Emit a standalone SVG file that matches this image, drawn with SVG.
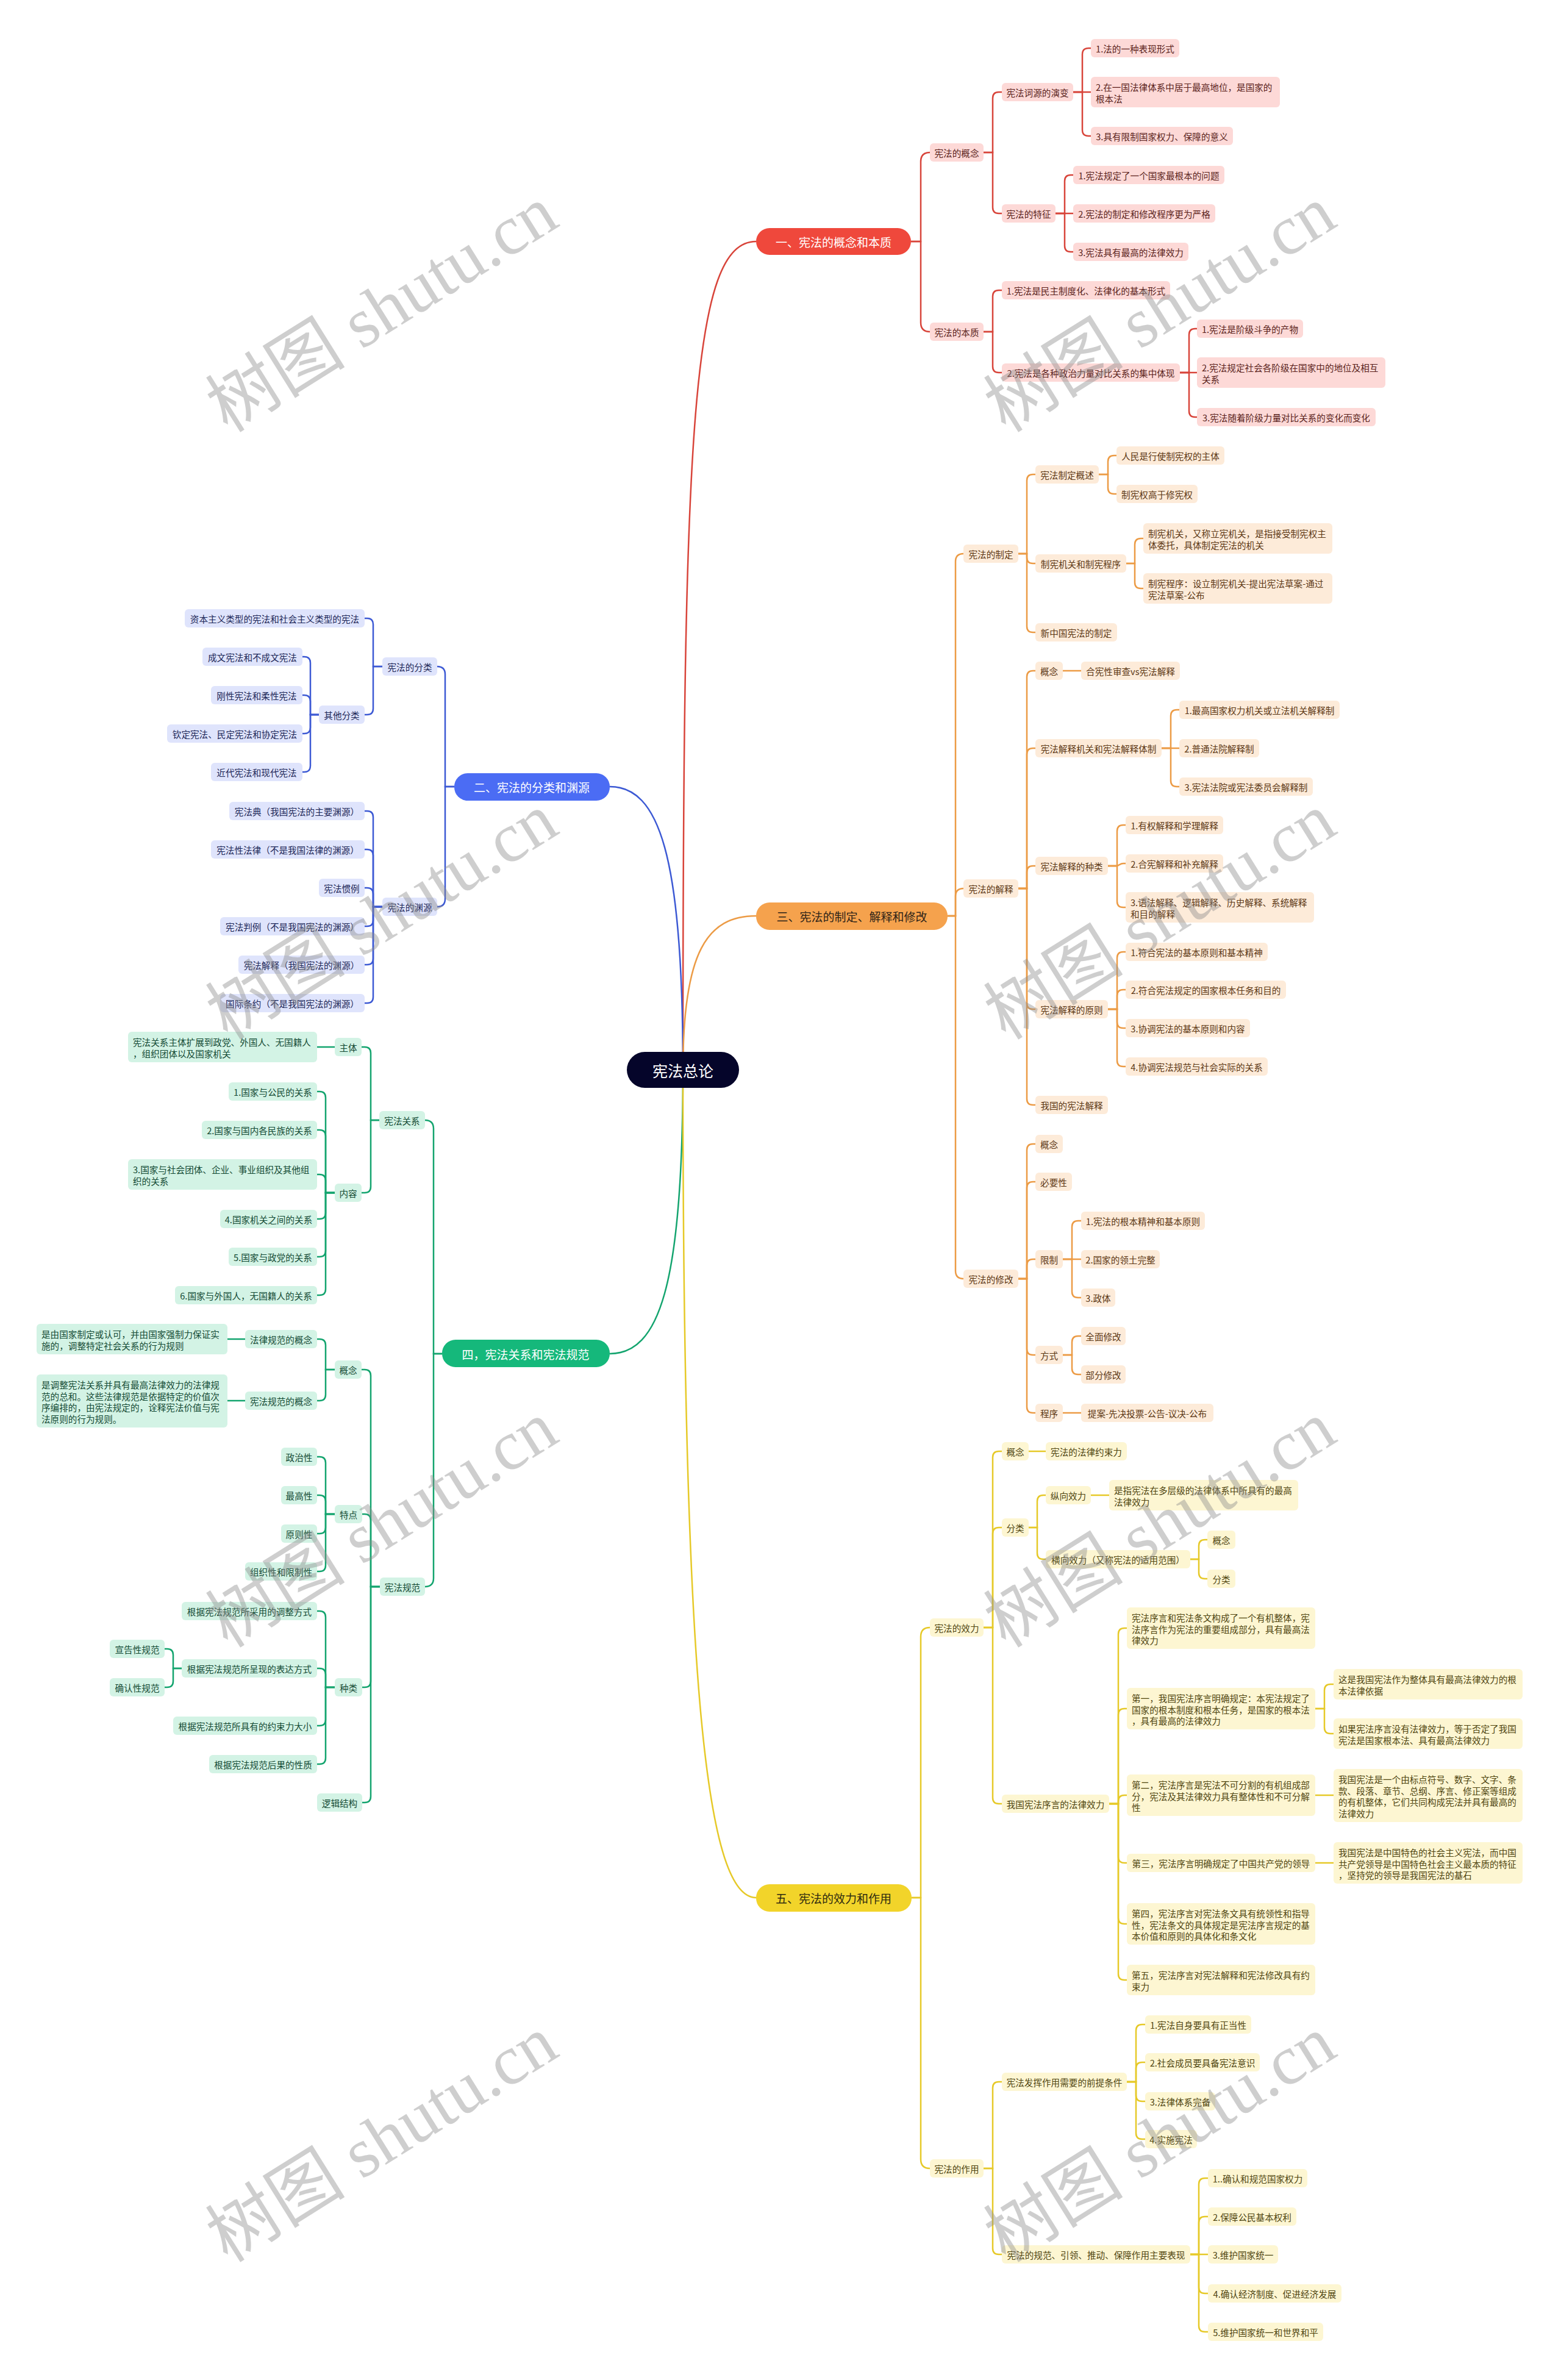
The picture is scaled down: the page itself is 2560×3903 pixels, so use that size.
<svg xmlns="http://www.w3.org/2000/svg" width="2560" height="3903" viewBox="0 0 2560 3903">
<style>
.t{font-family:"Noto Sans CJK SC","Noto Sans",sans-serif;font-size:14.6px;dominant-baseline:central}
.c{text-anchor:middle}
.m{font-family:"Noto Sans CJK SC","Noto Sans",sans-serif;font-size:19px;dominant-baseline:central;text-anchor:middle}
.nr{fill:#fdd9d7}.tr{fill:#5a1f1b}
.no{fill:#fdebd9}.to{fill:#5c3714}
.ny{fill:#fdf6d2}.ty{fill:#4f4510}
.nb{fill:#dfe4fc}.tb{fill:#1c2657}
.ng{fill:#d3f3e5}.tg{fill:#134a34}
.lr{stroke:#d8443a}.lo{stroke:#ec9b45}.ly{stroke:#e6c928}.lb{stroke:#3c59d4}.lg{stroke:#13a46e}
#conn path{fill:none;stroke-width:2.5}
.wm{font-family:"Liberation Serif","Noto Sans CJK SC",serif;font-size:115px;fill:#8c8c8c;opacity:0.42;text-anchor:middle}
</style>
<rect width="2560" height="3903" fill="#ffffff"/>
<g id="conn">
<path class="lr" d="M1120,1755 C1120,700 1135,396 1240,396"/>
<path class="lb" d="M1120,1755 C1120,1400 1080,1290 1000,1290"/>
<path class="lo" d="M1120,1755 C1120,1560 1160,1502 1240,1502"/>
<path class="lg" d="M1120,1755 C1120,2111 1080,2220 1000,2220"/>
<path class="ly" d="M1120,1755 C1120,2780 1160,3112 1240,3112"/>
<path class="lr" d="M1494,396H1510V265Q1510,250 1525,250"/>
<path class="lr" d="M1494,396H1510V529Q1510,544 1525,544"/>
<path class="lr" d="M1613,250H1628V161Q1628,151 1638,151H1643"/>
<path class="lr" d="M1613,250H1628V340Q1628,350 1638,350H1643"/>
<path class="lr" d="M1760,151H1775V89Q1775,79 1785,79H1789"/>
<path class="lr" d="M1760,151H1789"/>
<path class="lr" d="M1760,151H1775V213Q1775,223 1785,223H1789"/>
<path class="lr" d="M1731,350H1746V297Q1746,287 1756,287H1760"/>
<path class="lr" d="M1731,350H1760"/>
<path class="lr" d="M1731,350H1746V403Q1746,413 1756,413H1760"/>
<path class="lr" d="M1613,544H1628V486Q1628,476 1638,476H1643"/>
<path class="lr" d="M1613,544H1628V601Q1628,611 1638,611H1643"/>
<path class="lr" d="M1935,611H1950V549Q1950,539 1960,539H1963"/>
<path class="lr" d="M1935,611H1963"/>
<path class="lr" d="M1935,611H1950V674Q1950,684 1960,684H1963"/>
<path class="lo" d="M1554,1502H1567V921Q1567,908 1580,908"/>
<path class="lo" d="M1554,1502H1567V1470Q1567,1457 1580,1457"/>
<path class="lo" d="M1554,1502H1567V2084Q1567,2097 1580,2097"/>
<path class="lo" d="M1670,908H1684V788Q1684,778 1694,778H1698"/>
<path class="lo" d="M1670,908H1684V914Q1684,924 1694,924H1698"/>
<path class="lo" d="M1670,908H1684V1027Q1684,1037 1694,1037H1698"/>
<path class="lo" d="M1802,778H1817V757Q1817,747 1827,747H1831"/>
<path class="lo" d="M1802,778H1817V800Q1817,810 1827,810H1831"/>
<path class="lo" d="M1847,924H1861V893Q1861,883 1871,883H1875"/>
<path class="lo" d="M1847,924H1861V955Q1861,965 1871,965H1875"/>
<path class="lo" d="M1670,1457H1684V1110Q1684,1100 1694,1100H1698"/>
<path class="lo" d="M1670,1457H1684V1237Q1684,1227 1694,1227H1698"/>
<path class="lo" d="M1670,1457H1684V1430Q1684,1420 1694,1420H1698"/>
<path class="lo" d="M1670,1457H1684V1645Q1684,1655 1694,1655H1698"/>
<path class="lo" d="M1670,1457H1684V1802Q1684,1812 1694,1812H1698"/>
<path class="lo" d="M1743,1100H1773"/>
<path class="lo" d="M1905,1227H1920V1174Q1920,1164 1930,1164H1934"/>
<path class="lo" d="M1905,1227H1934"/>
<path class="lo" d="M1905,1227H1920V1280Q1920,1290 1930,1290H1934"/>
<path class="lo" d="M1817,1420H1832V1363Q1832,1353 1842,1353H1846"/>
<path class="lo" d="M1817,1420H1830C1836,1420 1836,1416 1842,1416H1846"/>
<path class="lo" d="M1817,1420H1832V1478Q1832,1488 1842,1488H1846"/>
<path class="lo" d="M1817,1655H1832V1571Q1832,1561 1842,1561H1846"/>
<path class="lo" d="M1817,1655H1832V1633Q1832,1623 1842,1623H1846"/>
<path class="lo" d="M1817,1655H1832V1676Q1832,1686 1842,1686H1846"/>
<path class="lo" d="M1817,1655H1832V1739Q1832,1749 1842,1749H1846"/>
<path class="lo" d="M1670,2097H1684V1886Q1684,1876 1694,1876H1698"/>
<path class="lo" d="M1670,2097H1684V1948Q1684,1938 1694,1938H1698"/>
<path class="lo" d="M1670,2097H1684V2075Q1684,2065 1694,2065H1698"/>
<path class="lo" d="M1670,2097H1684V2212Q1684,2222 1694,2222H1698"/>
<path class="lo" d="M1670,2097H1684V2307Q1684,2317 1694,2317H1698"/>
<path class="lo" d="M1743,2065H1758V2012Q1758,2002 1768,2002H1773"/>
<path class="lo" d="M1743,2065H1773"/>
<path class="lo" d="M1743,2065H1758V2118Q1758,2128 1768,2128H1773"/>
<path class="lo" d="M1743,2222H1758V2201Q1758,2191 1768,2191H1773"/>
<path class="lo" d="M1743,2222H1758V2244Q1758,2254 1768,2254H1773"/>
<path class="lo" d="M1743,2317H1773"/>
<path class="ly" d="M1495,3112H1510V2684Q1510,2669 1525,2669"/>
<path class="ly" d="M1495,3112H1510V3541Q1510,3556 1525,3556"/>
<path class="ly" d="M1613,2669H1628V2390Q1628,2380 1638,2380H1643"/>
<path class="ly" d="M1613,2669H1628V2515Q1628,2505 1638,2505H1643"/>
<path class="ly" d="M1613,2669H1628V2948Q1628,2958 1638,2958H1643"/>
<path class="ly" d="M1687,2380H1715"/>
<path class="ly" d="M1687,2505H1701V2462Q1701,2452 1711,2452H1715"/>
<path class="ly" d="M1687,2505H1701V2547Q1701,2557 1711,2557H1715"/>
<path class="ly" d="M1789,2452H1819"/>
<path class="ly" d="M1952,2557H1966V2535Q1966,2525 1976,2525H1980"/>
<path class="ly" d="M1952,2557H1966V2579Q1966,2589 1976,2589H1980"/>
<path class="ly" d="M1819,2958H1834V2680Q1834,2670 1844,2670H1848"/>
<path class="ly" d="M1819,2958H1834V2812Q1834,2802 1844,2802H1848"/>
<path class="ly" d="M1819,2958H1834V2954Q1834,2944 1844,2944H1848"/>
<path class="ly" d="M1819,2958H1834V3045Q1834,3055 1844,3055H1848"/>
<path class="ly" d="M1819,2958H1834V3145Q1834,3155 1844,3155H1848"/>
<path class="ly" d="M1819,2958H1834V3237Q1834,3247 1844,3247H1848"/>
<path class="ly" d="M2157,2802H2172V2772Q2172,2762 2182,2762H2187"/>
<path class="ly" d="M2157,2802H2172V2833Q2172,2843 2182,2843H2187"/>
<path class="ly" d="M2157,2944H2187"/>
<path class="ly" d="M2157,3055H2187"/>
<path class="ly" d="M1613,3556H1628V3424Q1628,3414 1638,3414H1643"/>
<path class="ly" d="M1613,3556H1628V3687Q1628,3697 1638,3697H1643"/>
<path class="ly" d="M1848,3414H1863V3330Q1863,3320 1873,3320H1878"/>
<path class="ly" d="M1848,3414H1863V3392Q1863,3382 1873,3382H1878"/>
<path class="ly" d="M1848,3414H1863V3436Q1863,3446 1873,3446H1878"/>
<path class="ly" d="M1848,3414H1863V3498Q1863,3508 1873,3508H1878"/>
<path class="ly" d="M1952,3697H1966V3582Q1966,3572 1976,3572H1981"/>
<path class="ly" d="M1952,3697H1966V3645Q1966,3635 1976,3635H1981"/>
<path class="ly" d="M1952,3697H1981"/>
<path class="ly" d="M1952,3697H1966V3751Q1966,3761 1976,3761H1981"/>
<path class="ly" d="M1952,3697H1966V3814Q1966,3824 1976,3824H1981"/>
<path class="lb" d="M745,1290H730V1106Q730,1093 717,1093"/>
<path class="lb" d="M745,1290H730V1474Q730,1487 717,1487"/>
<path class="lb" d="M627,1093H612V1024Q612,1014 602,1014H598"/>
<path class="lb" d="M627,1093H612V1162Q612,1172 602,1172H598"/>
<path class="lb" d="M523,1172H509V1087Q509,1077 499,1077H496"/>
<path class="lb" d="M523,1172H509V1150Q509,1140 499,1140H496"/>
<path class="lb" d="M523,1172H509V1193Q509,1203 499,1203H496"/>
<path class="lb" d="M523,1172H509V1256Q509,1266 499,1266H496"/>
<path class="lb" d="M627,1487H612V1340Q612,1330 602,1330H598"/>
<path class="lb" d="M627,1487H612V1403Q612,1393 602,1393H598"/>
<path class="lb" d="M627,1487H612V1466Q612,1456 602,1456H598"/>
<path class="lb" d="M627,1487H612V1509Q612,1519 602,1519H598"/>
<path class="lb" d="M627,1487H612V1572Q612,1582 602,1582H598"/>
<path class="lb" d="M627,1487H612V1635Q612,1645 602,1645H598"/>
<path class="lg" d="M725,2220H711V1851Q711,1837 697,1837"/>
<path class="lg" d="M725,2220H711V2588Q711,2602 697,2602"/>
<path class="lg" d="M622,1837H608V1727Q608,1717 598,1717H593"/>
<path class="lg" d="M622,1837H608V1946Q608,1956 598,1956H593"/>
<path class="lg" d="M549,1717H520"/>
<path class="lg" d="M549,1956H534V1800Q534,1790 524,1790H520"/>
<path class="lg" d="M549,1956H534V1863Q534,1853 524,1853H520"/>
<path class="lg" d="M549,1956H534V1936Q534,1926 524,1926H520"/>
<path class="lg" d="M549,1956H534V1989Q534,1999 524,1999H520"/>
<path class="lg" d="M549,1956H534V2051Q534,2061 524,2061H520"/>
<path class="lg" d="M549,1956H534V2114Q534,2124 524,2124H520"/>
<path class="lg" d="M623,2602H608V2256Q608,2246 598,2246H593"/>
<path class="lg" d="M623,2602H608V2493Q608,2483 598,2483H594"/>
<path class="lg" d="M623,2602H608V2757Q608,2767 598,2767H594"/>
<path class="lg" d="M623,2602H608V2946Q608,2956 598,2956H594"/>
<path class="lg" d="M549,2246H534V2206Q534,2196 524,2196H520"/>
<path class="lg" d="M549,2246H534V2287Q534,2297 524,2297H520"/>
<path class="lg" d="M402,2196H373"/>
<path class="lg" d="M402,2297H373"/>
<path class="lg" d="M549,2483H534V2399Q534,2389 524,2389H520"/>
<path class="lg" d="M549,2483H534V2462Q534,2452 524,2452H520"/>
<path class="lg" d="M549,2483H534V2505Q534,2515 524,2515H520"/>
<path class="lg" d="M549,2483H534V2567Q534,2577 524,2577H520"/>
<path class="lg" d="M549,2767H534V2652Q534,2642 524,2642H520"/>
<path class="lg" d="M549,2767H534V2746Q534,2736 524,2736H520"/>
<path class="lg" d="M549,2767H534V2820Q534,2830 524,2830H520"/>
<path class="lg" d="M549,2767H534V2883Q534,2893 524,2893H520"/>
<path class="lg" d="M298,2736H284V2714Q284,2704 274,2704H270"/>
<path class="lg" d="M298,2736H284V2757Q284,2767 274,2767H270"/>
</g>
<g id="root"><rect x="1028" y="1725" width="184" height="59" rx="29.5" fill="#05052a"/><text class="m" x="1120" y="1755" style="font-size:25px" fill="#ffffff">宪法总论</text></g>
<g id="m1"><rect x="1240" y="374" width="254" height="44" rx="22" fill="#ef483c"/><text class="m" x="1367" y="396" fill="#ffffff">一、宪法的概念和本质</text></g>
<g id="m2"><rect x="745" y="1268" width="255" height="45" rx="22" fill="#4b6cf4"/><text class="m" x="872" y="1290" fill="#ffffff">二、宪法的分类和渊源</text></g>
<g id="m3"><rect x="1240" y="1480" width="314" height="45" rx="22" fill="#f5a24d"/><text class="m" x="1397" y="1502" fill="#2e2418">三、宪法的制定、解释和修改</text></g>
<g id="m4"><rect x="725" y="2197" width="275" height="45" rx="22" fill="#15b87b"/><text class="m" x="862" y="2220" fill="#ffffff">四，宪法关系和宪法规范</text></g>
<g id="m5"><rect x="1240" y="3090" width="255" height="45" rx="22" fill="#f2d42a"/><text class="m" x="1367" y="3112" fill="#2e2a10">五、宪法的效力和作用</text></g>
<g id="r1"><rect class="nr" x="1525" y="235" width="88" height="30" rx="6"/><text class="t c tr" x="1569" y="250">宪法的概念</text></g>
<g id="r2"><rect class="nr" x="1643" y="136" width="117" height="30" rx="6"/><text class="t c tr" x="1701.5" y="151">宪法词源的演变</text></g>
<g id="r3"><rect class="nr" x="1789" y="64" width="145" height="30" rx="6"/><text class="t c tr" x="1861.5" y="79">1.法的一种表现形式</text></g>
<g id="r4"><rect class="nr" x="1789" y="126" width="310" height="50" rx="6"/><text class="t tr" x="1797" y="142"><tspan x="1797">2.在一国法律体系中居于最高地位，是国家的</tspan><tspan x="1797" dy="18.5">根本法</tspan></text></g>
<g id="r5"><rect class="nr" x="1789" y="208" width="233" height="30" rx="6"/><text class="t c tr" x="1905.5" y="223">3.具有限制国家权力、保障的意义</text></g>
<g id="r6"><rect class="nr" x="1643" y="335" width="88" height="30" rx="6"/><text class="t c tr" x="1687" y="350">宪法的特征</text></g>
<g id="r7"><rect class="nr" x="1760" y="272" width="248" height="30" rx="6"/><text class="t c tr" x="1884" y="287">1.宪法规定了一个国家最根本的问题</text></g>
<g id="r8"><rect class="nr" x="1760" y="335" width="233" height="30" rx="6"/><text class="t c tr" x="1876.5" y="350">2.宪法的制定和修改程序更为严格</text></g>
<g id="r9"><rect class="nr" x="1760" y="398" width="189" height="30" rx="6"/><text class="t c tr" x="1854.5" y="413">3.宪法具有最高的法律效力</text></g>
<g id="r10"><rect class="nr" x="1525" y="529" width="88" height="30" rx="6"/><text class="t c tr" x="1569" y="544">宪法的本质</text></g>
<g id="r11"><rect class="nr" x="1643" y="461" width="276" height="30" rx="6"/><text class="t c tr" x="1781" y="476">1.宪法是民主制度化、法律化的基本形式</text></g>
<g id="r12"><rect class="nr" x="1643" y="596" width="292" height="30" rx="6"/><text class="t c tr" x="1789" y="611">2.宪法是各种政治力量对比关系的集中体现</text></g>
<g id="r13"><rect class="nr" x="1963" y="524" width="174" height="30" rx="6"/><text class="t c tr" x="2050" y="539">1.宪法是阶级斗争的产物</text></g>
<g id="r14"><rect class="nr" x="1963" y="586" width="309" height="50" rx="6"/><text class="t tr" x="1971" y="602"><tspan x="1971">2.宪法规定社会各阶级在国家中的地位及相互</tspan><tspan x="1971" dy="18.5">关系</tspan></text></g>
<g id="r15"><rect class="nr" x="1963" y="669" width="293" height="30" rx="6"/><text class="t c tr" x="2109.5" y="684">3.宪法随着阶级力量对比关系的变化而变化</text></g>
<g id="o1"><rect class="no" x="1580" y="893" width="90" height="30" rx="6"/><text class="t c to" x="1625" y="908">宪法的制定</text></g>
<g id="o2"><rect class="no" x="1698" y="763" width="104" height="30" rx="6"/><text class="t c to" x="1750" y="778">宪法制定概述</text></g>
<g id="o3"><rect class="no" x="1831" y="732" width="177" height="30" rx="6"/><text class="t c to" x="1919.5" y="747">人民是行使制宪权的主体</text></g>
<g id="o4"><rect class="no" x="1831" y="795" width="133" height="30" rx="6"/><text class="t c to" x="1897.5" y="810">制宪权高于修宪权</text></g>
<g id="o5"><rect class="no" x="1698" y="909" width="149" height="30" rx="6"/><text class="t c to" x="1772.5" y="924">制宪机关和制宪程序</text></g>
<g id="o6"><rect class="no" x="1875" y="858" width="310" height="50" rx="6"/><text class="t to" x="1883" y="874"><tspan x="1883">制宪机关，又称立宪机关，是指接受制宪权主</tspan><tspan x="1883" dy="18.5">体委托，具体制定宪法的机关</tspan></text></g>
<g id="o7"><rect class="no" x="1875" y="940" width="310" height="50" rx="6"/><text class="t to" x="1883" y="956"><tspan x="1883">制宪程序：设立制宪机关-提出宪法草案-通过</tspan><tspan x="1883" dy="18.5">宪法草案-公布</tspan></text></g>
<g id="o8"><rect class="no" x="1698" y="1022" width="134" height="30" rx="6"/><text class="t c to" x="1765" y="1037">新中国宪法的制定</text></g>
<g id="o9"><rect class="no" x="1580" y="1442" width="90" height="30" rx="6"/><text class="t c to" x="1625" y="1457">宪法的解释</text></g>
<g id="o10"><rect class="no" x="1698" y="1085" width="45" height="30" rx="6"/><text class="t c to" x="1720.5" y="1100">概念</text></g>
<g id="o11"><rect class="no" x="1773" y="1085" width="162" height="30" rx="6"/><text class="t c to" x="1854" y="1100">合宪性审查vs宪法解释</text></g>
<g id="o12"><rect class="no" x="1698" y="1212" width="207" height="30" rx="6"/><text class="t c to" x="1801.5" y="1227">宪法解释机关和宪法解释体制</text></g>
<g id="o13"><rect class="no" x="1934" y="1149" width="263" height="30" rx="6"/><text class="t c to" x="2065.5" y="1164">1.最高国家权力机关或立法机关解释制</text></g>
<g id="o14"><rect class="no" x="1934" y="1212" width="131" height="30" rx="6"/><text class="t c to" x="1999.5" y="1227">2.普通法院解释制</text></g>
<g id="o15"><rect class="no" x="1934" y="1275" width="219" height="30" rx="6"/><text class="t c to" x="2043.5" y="1290">3.宪法法院或宪法委员会解释制</text></g>
<g id="o16"><rect class="no" x="1698" y="1405" width="119" height="30" rx="6"/><text class="t c to" x="1757.5" y="1420">宪法解释的种类</text></g>
<g id="o17"><rect class="no" x="1846" y="1338" width="160" height="30" rx="6"/><text class="t c to" x="1926" y="1353">1.有权解释和学理解释</text></g>
<g id="o18"><rect class="no" x="1846" y="1401" width="160" height="30" rx="6"/><text class="t c to" x="1926" y="1416">2.合宪解释和补充解释</text></g>
<g id="o19"><rect class="no" x="1846" y="1463" width="309" height="50" rx="6"/><text class="t to" x="1854" y="1479"><tspan x="1854">3.语法解释、逻辑解释、历史解释、系统解释</tspan><tspan x="1854" dy="18.5">和目的解释</tspan></text></g>
<g id="o20"><rect class="no" x="1698" y="1640" width="119" height="30" rx="6"/><text class="t c to" x="1757.5" y="1655">宪法解释的原则</text></g>
<g id="o21"><rect class="no" x="1846" y="1546" width="233" height="30" rx="6"/><text class="t c to" x="1962.5" y="1561">1.符合宪法的基本原则和基本精神</text></g>
<g id="o22"><rect class="no" x="1846" y="1608" width="263" height="30" rx="6"/><text class="t c to" x="1977.5" y="1623">2.符合宪法规定的国家根本任务和目的</text></g>
<g id="o23"><rect class="no" x="1846" y="1671" width="204" height="30" rx="6"/><text class="t c to" x="1948" y="1686">3.协调宪法的基本原则和内容</text></g>
<g id="o24"><rect class="no" x="1846" y="1734" width="233" height="30" rx="6"/><text class="t c to" x="1962.5" y="1749">4.协调宪法规范与社会实际的关系</text></g>
<g id="o25"><rect class="no" x="1698" y="1797" width="119" height="30" rx="6"/><text class="t c to" x="1757.5" y="1812">我国的宪法解释</text></g>
<g id="o26"><rect class="no" x="1580" y="2082" width="90" height="30" rx="6"/><text class="t c to" x="1625" y="2097">宪法的修改</text></g>
<g id="o27"><rect class="no" x="1698" y="1861" width="45" height="30" rx="6"/><text class="t c to" x="1720.5" y="1876">概念</text></g>
<g id="o28"><rect class="no" x="1698" y="1923" width="60" height="30" rx="6"/><text class="t c to" x="1728" y="1938">必要性</text></g>
<g id="o29"><rect class="no" x="1698" y="2050" width="45" height="30" rx="6"/><text class="t c to" x="1720.5" y="2065">限制</text></g>
<g id="o30"><rect class="no" x="1773" y="1987" width="203" height="30" rx="6"/><text class="t c to" x="1874.5" y="2002">1.宪法的根本精神和基本原则</text></g>
<g id="o31"><rect class="no" x="1773" y="2050" width="129" height="30" rx="6"/><text class="t c to" x="1837.5" y="2065">2.国家的领土完整</text></g>
<g id="o32"><rect class="no" x="1773" y="2113" width="56" height="30" rx="6"/><text class="t c to" x="1801" y="2128">3.政体</text></g>
<g id="o33"><rect class="no" x="1698" y="2207" width="45" height="30" rx="6"/><text class="t c to" x="1720.5" y="2222">方式</text></g>
<g id="o34"><rect class="no" x="1773" y="2176" width="73" height="30" rx="6"/><text class="t c to" x="1809.5" y="2191">全面修改</text></g>
<g id="o35"><rect class="no" x="1773" y="2239" width="73" height="30" rx="6"/><text class="t c to" x="1809.5" y="2254">部分修改</text></g>
<g id="o36"><rect class="no" x="1698" y="2302" width="45" height="30" rx="6"/><text class="t c to" x="1720.5" y="2317">程序</text></g>
<g id="o37"><rect class="no" x="1773" y="2302" width="217" height="30" rx="6"/><text class="t c to" x="1881.5" y="2317">提案-先决投票-公告-议决-公布</text></g>
<g id="y1"><rect class="ny" x="1525" y="2654" width="88" height="30" rx="6"/><text class="t c ty" x="1569" y="2669">宪法的效力</text></g>
<g id="y2"><rect class="ny" x="1643" y="2365" width="44" height="30" rx="6"/><text class="t c ty" x="1665" y="2380">概念</text></g>
<g id="y3"><rect class="ny" x="1715" y="2365" width="133" height="30" rx="6"/><text class="t c ty" x="1781.5" y="2380">宪法的法律约束力</text></g>
<g id="y4"><rect class="ny" x="1643" y="2490" width="44" height="30" rx="6"/><text class="t c ty" x="1665" y="2505">分类</text></g>
<g id="y5"><rect class="ny" x="1715" y="2437" width="74" height="30" rx="6"/><text class="t c ty" x="1752" y="2452">纵向效力</text></g>
<g id="y6"><rect class="ny" x="1819" y="2427" width="310" height="50" rx="6"/><text class="t ty" x="1827" y="2443"><tspan x="1827">是指宪法在多层级的法律体系中所具有的最高</tspan><tspan x="1827" dy="18.5">法律效力</tspan></text></g>
<g id="y7"><rect class="ny" x="1715" y="2542" width="237" height="30" rx="6"/><text class="t c ty" x="1833.5" y="2557">横向效力（又称宪法的适用范围）</text></g>
<g id="y8"><rect class="ny" x="1980" y="2510" width="46" height="30" rx="6"/><text class="t c ty" x="2003" y="2525">概念</text></g>
<g id="y9"><rect class="ny" x="1980" y="2574" width="46" height="30" rx="6"/><text class="t c ty" x="2003" y="2589">分类</text></g>
<g id="y10"><rect class="ny" x="1643" y="2943" width="176" height="30" rx="6"/><text class="t c ty" x="1731" y="2958">我国宪法序言的法律效力</text></g>
<g id="y11"><rect class="ny" x="1848" y="2636" width="309" height="68" rx="6"/><text class="t ty" x="1856" y="2652"><tspan x="1856">宪法序言和宪法条文构成了一个有机整体，宪</tspan><tspan x="1856" dy="18.5">法序言作为宪法的重要组成部分，具有最高法</tspan><tspan x="1856" dy="18.5">律效力</tspan></text></g>
<g id="y12"><rect class="ny" x="1848" y="2768" width="309" height="68" rx="6"/><text class="t ty" x="1856" y="2784"><tspan x="1856">第一，我国宪法序言明确规定：本宪法规定了</tspan><tspan x="1856" dy="18.5">国家的根本制度和根本任务，是国家的根本法</tspan><tspan x="1856" dy="18.5">，具有最高的法律效力</tspan></text></g>
<g id="y13"><rect class="ny" x="2187" y="2737" width="310" height="50" rx="6"/><text class="t ty" x="2195" y="2753"><tspan x="2195">这是我国宪法作为整体具有最高法律效力的根</tspan><tspan x="2195" dy="18.5">本法律依据</tspan></text></g>
<g id="y14"><rect class="ny" x="2187" y="2818" width="310" height="50" rx="6"/><text class="t ty" x="2195" y="2834"><tspan x="2195">如果宪法序言没有法律效力，等于否定了我国</tspan><tspan x="2195" dy="18.5">宪法是国家根本法、具有最高法律效力</tspan></text></g>
<g id="y15"><rect class="ny" x="1848" y="2910" width="309" height="68" rx="6"/><text class="t ty" x="1856" y="2926"><tspan x="1856">第二，宪法序言是宪法不可分割的有机组成部</tspan><tspan x="1856" dy="18.5">分，宪法及其法律效力具有整体性和不可分解</tspan><tspan x="1856" dy="18.5">性</tspan></text></g>
<g id="y16"><rect class="ny" x="2187" y="2901" width="310" height="87" rx="6"/><text class="t ty" x="2195" y="2917"><tspan x="2195">我国宪法是一个由标点符号、数字、文字、条</tspan><tspan x="2195" dy="18.5">款、段落、章节、总纲、序言、修正案等组成</tspan><tspan x="2195" dy="18.5">的有机整体，它们共同构成宪法并具有最高的</tspan><tspan x="2195" dy="18.5">法律效力</tspan></text></g>
<g id="y17"><rect class="ny" x="1848" y="3040" width="309" height="30" rx="6"/><text class="t c ty" x="2002.5" y="3055">第三，宪法序言明确规定了中国共产党的领导</text></g>
<g id="y18"><rect class="ny" x="2187" y="3021" width="310" height="68" rx="6"/><text class="t ty" x="2195" y="3037"><tspan x="2195">我国宪法是中国特色的社会主义宪法，而中国</tspan><tspan x="2195" dy="18.5">共产党领导是中国特色社会主义最本质的特征</tspan><tspan x="2195" dy="18.5">，坚持党的领导是我国宪法的基石</tspan></text></g>
<g id="y19"><rect class="ny" x="1848" y="3121" width="309" height="68" rx="6"/><text class="t ty" x="1856" y="3137"><tspan x="1856">第四，宪法序言对宪法条文具有统领性和指导</tspan><tspan x="1856" dy="18.5">性，宪法条文的具体规定是宪法序言规定的基</tspan><tspan x="1856" dy="18.5">本价值和原则的具体化和条文化</tspan></text></g>
<g id="y20"><rect class="ny" x="1848" y="3222" width="309" height="50" rx="6"/><text class="t ty" x="1856" y="3238"><tspan x="1856">第五，宪法序言对宪法解释和宪法修改具有约</tspan><tspan x="1856" dy="18.5">束力</tspan></text></g>
<g id="y21"><rect class="ny" x="1525" y="3541" width="88" height="30" rx="6"/><text class="t c ty" x="1569" y="3556">宪法的作用</text></g>
<g id="y22"><rect class="ny" x="1643" y="3399" width="205" height="30" rx="6"/><text class="t c ty" x="1745.5" y="3414">宪法发挥作用需要的前提条件</text></g>
<g id="y23"><rect class="ny" x="1878" y="3305" width="174" height="30" rx="6"/><text class="t c ty" x="1965" y="3320">1.宪法自身要具有正当性</text></g>
<g id="y24"><rect class="ny" x="1878" y="3367" width="188" height="30" rx="6"/><text class="t c ty" x="1972" y="3382">2.社会成员要具备宪法意识</text></g>
<g id="y25"><rect class="ny" x="1878" y="3431" width="115" height="30" rx="6"/><text class="t c ty" x="1935.5" y="3446">3.法律体系完备</text></g>
<g id="y26"><rect class="ny" x="1878" y="3493" width="85" height="30" rx="6"/><text class="t c ty" x="1920.5" y="3508">4.实施宪法</text></g>
<g id="y27"><rect class="ny" x="1643" y="3682" width="309" height="30" rx="6"/><text class="t c ty" x="1797.5" y="3697">宪法的规范、引领、推动、保障作用主要表现</text></g>
<g id="y28"><rect class="ny" x="1981" y="3557" width="163" height="30" rx="6"/><text class="t c ty" x="2062.5" y="3572">1..确认和规范国家权力</text></g>
<g id="y29"><rect class="ny" x="1981" y="3620" width="145" height="30" rx="6"/><text class="t c ty" x="2053.5" y="3635">2.保障公民基本权利</text></g>
<g id="y30"><rect class="ny" x="1981" y="3682" width="115" height="30" rx="6"/><text class="t c ty" x="2038.5" y="3697">3.维护国家统一</text></g>
<g id="y31"><rect class="ny" x="1981" y="3746" width="219" height="30" rx="6"/><text class="t c ty" x="2090.5" y="3761">4.确认经济制度、促进经济发展</text></g>
<g id="y32"><rect class="ny" x="1981" y="3809" width="189" height="30" rx="6"/><text class="t c ty" x="2075.5" y="3824">5.维护国家统一和世界和平</text></g>
<g id="b1"><rect class="nb" x="627" y="1078" width="90" height="30" rx="6"/><text class="t c tb" x="672" y="1093">宪法的分类</text></g>
<g id="b2"><rect class="nb" x="303" y="999" width="295" height="30" rx="6"/><text class="t c tb" x="450.5" y="1014">资本主义类型的宪法和社会主义类型的宪法</text></g>
<g id="b3"><rect class="nb" x="523" y="1157" width="75" height="30" rx="6"/><text class="t c tb" x="560.5" y="1172">其他分类</text></g>
<g id="b4"><rect class="nb" x="332" y="1062" width="164" height="30" rx="6"/><text class="t c tb" x="414" y="1077">成文宪法和不成文宪法</text></g>
<g id="b5"><rect class="nb" x="346" y="1125" width="150" height="30" rx="6"/><text class="t c tb" x="421" y="1140">刚性宪法和柔性宪法</text></g>
<g id="b6"><rect class="nb" x="274" y="1188" width="222" height="30" rx="6"/><text class="t c tb" x="385" y="1203">钦定宪法、民定宪法和协定宪法</text></g>
<g id="b7"><rect class="nb" x="346" y="1251" width="150" height="30" rx="6"/><text class="t c tb" x="421" y="1266">近代宪法和现代宪法</text></g>
<g id="b8"><rect class="nb" x="627" y="1472" width="90" height="30" rx="6"/><text class="t c tb" x="672" y="1487">宪法的渊源</text></g>
<g id="b9"><rect class="nb" x="376" y="1315" width="222" height="30" rx="6"/><text class="t c tb" x="487" y="1330">宪法典（我国宪法的主要渊源）</text></g>
<g id="b10"><rect class="nb" x="346" y="1378" width="252" height="30" rx="6"/><text class="t c tb" x="472" y="1393">宪法性法律（不是我国法律的渊源）</text></g>
<g id="b11"><rect class="nb" x="523" y="1441" width="75" height="30" rx="6"/><text class="t c tb" x="560.5" y="1456">宪法惯例</text></g>
<g id="b12"><rect class="nb" x="361" y="1504" width="237" height="30" rx="6"/><text class="t c tb" x="479.5" y="1519">宪法判例（不是我国宪法的渊源）</text></g>
<g id="b13"><rect class="nb" x="391" y="1567" width="207" height="30" rx="6"/><text class="t c tb" x="494.5" y="1582">宪法解释（我国宪法的渊源）</text></g>
<g id="b14"><rect class="nb" x="361" y="1630" width="237" height="30" rx="6"/><text class="t c tb" x="479.5" y="1645">国际条约（不是我国宪法的渊源）</text></g>
<g id="g1"><rect class="ng" x="622" y="1822" width="75" height="30" rx="6"/><text class="t c tg" x="659.5" y="1837">宪法关系</text></g>
<g id="g2"><rect class="ng" x="549" y="1702" width="44" height="30" rx="6"/><text class="t c tg" x="571" y="1717">主体</text></g>
<g id="g3"><rect class="ng" x="210" y="1692" width="310" height="50" rx="6"/><text class="t tg" x="218" y="1708"><tspan x="218">宪法关系主体扩展到政党、外国人、无国籍人</tspan><tspan x="218" dy="18.5">，组织团体以及国家机关</tspan></text></g>
<g id="g4"><rect class="ng" x="549" y="1941" width="44" height="30" rx="6"/><text class="t c tg" x="571" y="1956">内容</text></g>
<g id="g5"><rect class="ng" x="375" y="1775" width="145" height="30" rx="6"/><text class="t c tg" x="447.5" y="1790">1.国家与公民的关系</text></g>
<g id="g6"><rect class="ng" x="331" y="1838" width="189" height="30" rx="6"/><text class="t c tg" x="425.5" y="1853">2.国家与国内各民族的关系</text></g>
<g id="g7"><rect class="ng" x="210" y="1901" width="310" height="50" rx="6"/><text class="t tg" x="218" y="1917"><tspan x="218">3.国家与社会团体、企业、事业组织及其他组</tspan><tspan x="218" dy="18.5">织的关系</tspan></text></g>
<g id="g8"><rect class="ng" x="361" y="1984" width="159" height="30" rx="6"/><text class="t c tg" x="440.5" y="1999">4.国家机关之间的关系</text></g>
<g id="g9"><rect class="ng" x="375" y="2046" width="145" height="30" rx="6"/><text class="t c tg" x="447.5" y="2061">5.国家与政党的关系</text></g>
<g id="g10"><rect class="ng" x="287" y="2109" width="233" height="30" rx="6"/><text class="t c tg" x="403.5" y="2124">6.国家与外国人，无国籍人的关系</text></g>
<g id="g11"><rect class="ng" x="623" y="2587" width="74" height="30" rx="6"/><text class="t c tg" x="660" y="2602">宪法规范</text></g>
<g id="g12"><rect class="ng" x="549" y="2231" width="44" height="30" rx="6"/><text class="t c tg" x="571" y="2246">概念</text></g>
<g id="g13"><rect class="ng" x="402" y="2181" width="118" height="30" rx="6"/><text class="t c tg" x="461" y="2196">法律规范的概念</text></g>
<g id="g14"><rect class="ng" x="60" y="2171" width="313" height="50" rx="6"/><text class="t tg" x="68" y="2187"><tspan x="68">是由国家制定或认可，并由国家强制力保证实</tspan><tspan x="68" dy="18.5">施的，调整特定社会关系的行为规则</tspan></text></g>
<g id="g15"><rect class="ng" x="402" y="2282" width="118" height="30" rx="6"/><text class="t c tg" x="461" y="2297">宪法规范的概念</text></g>
<g id="g16"><rect class="ng" x="60" y="2254" width="313" height="87" rx="6"/><text class="t tg" x="68" y="2270"><tspan x="68">是调整宪法关系并具有最高法律效力的法律规</tspan><tspan x="68" dy="18.5">范的总和。这些法律规范是依据特定的价值次</tspan><tspan x="68" dy="18.5">序编排的，由宪法规定的，诠释宪法价值与宪</tspan><tspan x="68" dy="18.5">法原则的行为规则。</tspan></text></g>
<g id="g17"><rect class="ng" x="549" y="2468" width="45" height="30" rx="6"/><text class="t c tg" x="571.5" y="2483">特点</text></g>
<g id="g18"><rect class="ng" x="461" y="2374" width="59" height="30" rx="6"/><text class="t c tg" x="490.5" y="2389">政治性</text></g>
<g id="g19"><rect class="ng" x="461" y="2437" width="59" height="30" rx="6"/><text class="t c tg" x="490.5" y="2452">最高性</text></g>
<g id="g20"><rect class="ng" x="461" y="2500" width="59" height="30" rx="6"/><text class="t c tg" x="490.5" y="2515">原则性</text></g>
<g id="g21"><rect class="ng" x="402" y="2562" width="118" height="30" rx="6"/><text class="t c tg" x="461" y="2577">组织性和限制性</text></g>
<g id="g22"><rect class="ng" x="549" y="2752" width="45" height="30" rx="6"/><text class="t c tg" x="571.5" y="2767">种类</text></g>
<g id="g23"><rect class="ng" x="298" y="2627" width="222" height="30" rx="6"/><text class="t c tg" x="409" y="2642">根据宪法规范所采用的调整方式</text></g>
<g id="g24"><rect class="ng" x="298" y="2721" width="222" height="30" rx="6"/><text class="t c tg" x="409" y="2736">根据宪法规范所呈现的表达方式</text></g>
<g id="g25"><rect class="ng" x="180" y="2689" width="90" height="30" rx="6"/><text class="t c tg" x="225" y="2704">宣告性规范</text></g>
<g id="g26"><rect class="ng" x="180" y="2752" width="90" height="30" rx="6"/><text class="t c tg" x="225" y="2767">确认性规范</text></g>
<g id="g27"><rect class="ng" x="284" y="2815" width="236" height="30" rx="6"/><text class="t c tg" x="402" y="2830">根据宪法规范所具有的约束力大小</text></g>
<g id="g28"><rect class="ng" x="343" y="2878" width="177" height="30" rx="6"/><text class="t c tg" x="431.5" y="2893">根据宪法规范后果的性质</text></g>
<g id="g29"><rect class="ng" x="520" y="2941" width="74" height="30" rx="6"/><text class="t c tg" x="557" y="2956">逻辑结构</text></g>
<g id="watermark">
<text class="wm" transform="translate(647,540) rotate(-32)">树图 shutu.cn</text>
<text class="wm" transform="translate(1923,540) rotate(-32)">树图 shutu.cn</text>
<text class="wm" transform="translate(647,1536) rotate(-32)">树图 shutu.cn</text>
<text class="wm" transform="translate(1923,1536) rotate(-32)">树图 shutu.cn</text>
<text class="wm" transform="translate(647,2533) rotate(-32)">树图 shutu.cn</text>
<text class="wm" transform="translate(1923,2533) rotate(-32)">树图 shutu.cn</text>
<text class="wm" transform="translate(647,3541) rotate(-32)">树图 shutu.cn</text>
<text class="wm" transform="translate(1923,3541) rotate(-32)">树图 shutu.cn</text>
</g>
</svg>
